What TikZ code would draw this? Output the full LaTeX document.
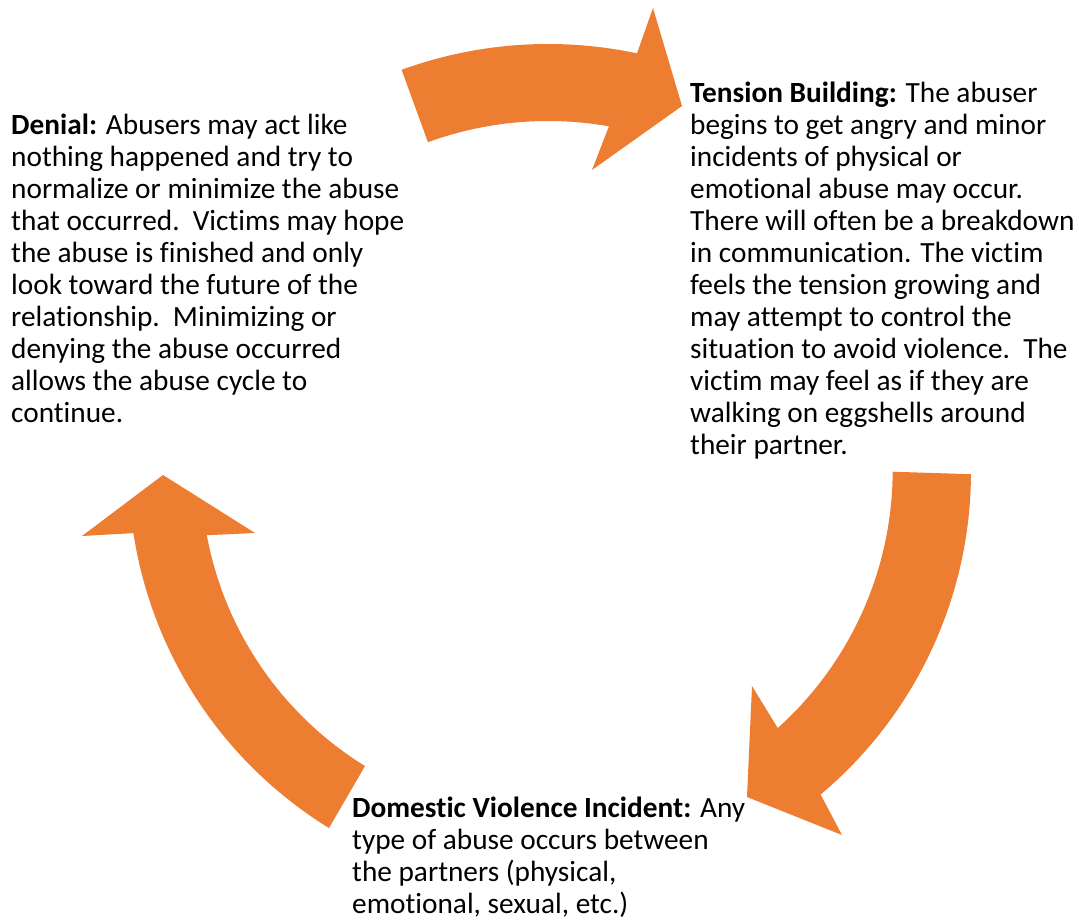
\documentclass[tikz,border=0pt]{standalone}
\usepackage{fontspec}
\setmainfont{Carlito}[Ligatures=NoCommon]
\definecolor{arrorange}{HTML}{ED7D31}
\begin{document}
\begin{tikzpicture}[x=1pt,y=-1pt,
  cyclearrow/.style={fill=arrorange,draw=none},
  stage/.style={anchor=north west,inner sep=0pt,align=left,
    font=\fontsize{29.3}{32}\selectfont,text=black}]
\useasboundingbox (0,0) rectangle (1079,923);
\coordinate (C) at (548,472);
% top arrow (denial -> tension building)
\fill[cyclearrow] ([shift={(C)}]-110:428) arc[start angle=-110,end angle=-78,radius=428]
  -- (653,8) -- (682,106) -- (592,170) -- ([shift={(C)}]-80:351)
  arc[start angle=-80,end angle=-110,radius=351] -- cycle;
% right arrow (tension building -> incident)
\fill[cyclearrow] ([shift={(C)}]0.3:423) arc[start angle=0.3,end angle=50,radius=421]
  -- (842,835) -- (747,797) -- (752,686) -- ([shift={(C)}]48.1:344)
  arc[start angle=48.1,end angle=0.2,radius=346] -- cycle;
% left arrow (incident -> denial)
\fill[cyclearrow] ([shift={(C)}]121.6:418) arc[start angle=121.6,end angle=171.3,radius=421]
  -- (82,536) -- (163,475) -- (255,533) -- ([shift={(C)}]169.5:347)
  arc[start angle=169.5,end angle=121.65,radius=345] -- cycle;
\node[stage] (denial) at (11,114) {\textbf{Denial:} Abusers may act like\\
nothing happened and try to\\
normalize or minimize the abuse\\
that occurred.\ \ Victims may hope\\
the abuse is finished and only\\
look toward the future of the\\
relationship.\ \ Minimizing or\\
denying the abuse occurred\\
allows the abuse cycle to\\
continue.};
\node[stage] (tension) at (690,82) {\textbf{Tension Building:} The abuser\\
begins to get angry and minor\\
incidents of physical or\\
emotional abuse may occur.\\
There will often be a breakdown\\
in communication. The victim\\
feels the tension growing and\\
may attempt to control the\\
situation to avoid violence.\ \ The\\
victim may feel as if they are\\
walking on eggshells around\\
their partner.};
\node[stage] (incident) at (352,797) {\textbf{Domestic Violence Incident:} Any\\
type of abuse occurs between\\
the partners (physical,\\
emotional, sexual, etc.)};
\end{tikzpicture}
\end{document}
